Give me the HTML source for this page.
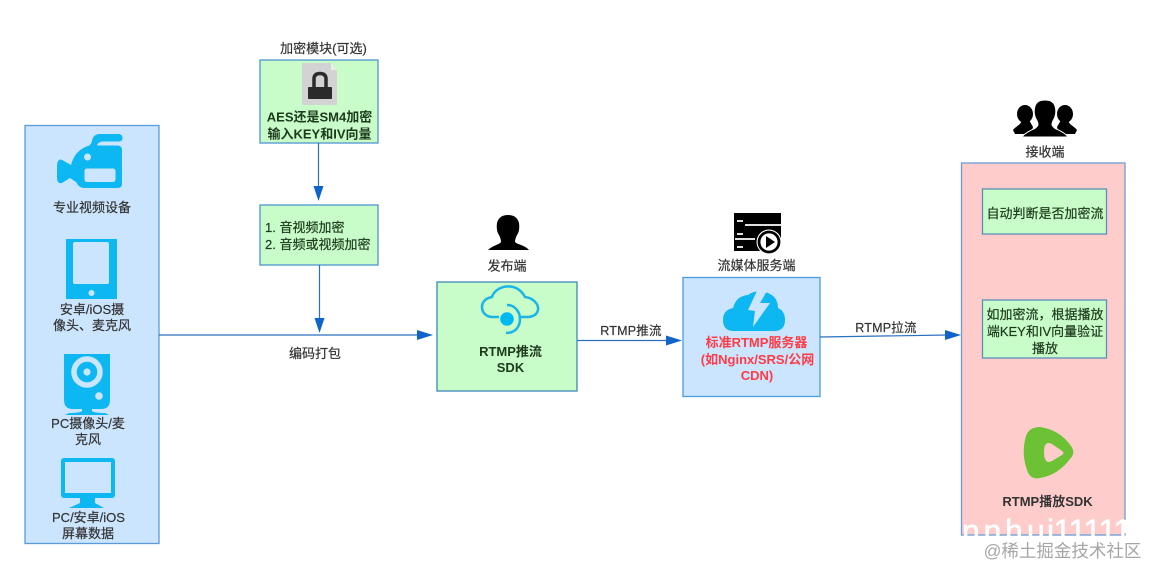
<!DOCTYPE html>
<html><head><meta charset="utf-8">
<style>
html,body{margin:0;padding:0;background:#fff;width:1149px;height:568px;overflow:hidden}
svg{display:block}
text{font-family:"Liberation Sans","Noto Sans CJK SC",sans-serif;font-size:13px;fill:#333;text-anchor:middle;stroke:#333;stroke-width:.2px}
.b{font-weight:700;stroke:none}
.d{fill:#1d3a1d;stroke:#1d3a1d}
.c{fill:#0db7f2}
</style></head>
<body>
<svg width="1149" height="568" viewBox="0 0 1149 568" xmlns="http://www.w3.org/2000/svg">
<!-- boxes -->
<rect x="25" y="125.500" width="134" height="418" fill="#cce5ff" stroke="#5b9bdc" stroke-width="1.300"/>
<rect x="260" y="60" width="118" height="83" fill="#c8fcc8" stroke="#4f95cf" stroke-width="1.300"/>
<rect x="260" y="205" width="118" height="60" fill="#c8fcc8" stroke="#4f95cf" stroke-width="1.300"/>
<rect x="437" y="282" width="140" height="109" fill="#c8fcc8" stroke="#3d87b8" stroke-width="1.300"/>
<rect x="683" y="277.500" width="137" height="119" fill="#cce5ff" stroke="#4b9be0" stroke-width="1.300"/>
<rect x="961.500" y="163" width="163.500" height="372" fill="#ffcccc" stroke="#6c9bd6" stroke-width="1.300"/>
<rect x="982.500" y="189" width="124" height="45" fill="#c8fcc8" stroke="#5b8fb8" stroke-width="1.300"/>
<rect x="982.500" y="300" width="124" height="58" fill="#c8fcc8" stroke="#5b8fb8" stroke-width="1.300"/>
<!-- connectors -->
<g stroke="#2a6fc0" stroke-width="1.200" fill="none">
<path d="M159 335H420"/>
<path d="M318.500 143V190"/>
<path d="M319.500 265V322"/>
<path d="M577 340.500H670"/>
<path d="M820 337L948 335"/>
</g>
<g fill="#0f63c9">
<path d="M433 335L417 330V340Z"/>
<path d="M318.500 201L313.500 186H323.500Z"/>
<path d="M319.500 333L314.500 318H324.500Z"/>
<path d="M682 340.500L666 335.500V345.500Z"/>
<path d="M961 335L945 330V340Z"/>
</g>
<!-- camera -->
<path class="c" d="M92 141Q93 134 100 134H119Q122.500 134.500 122.500 138Q122.500 141 119 141.500H102Q98 142 97 145.500H118Q122 146 122 150V184Q122 188 117 188H84Q79 188 76 182L70 178L62 183Q57 184 57 178V165Q58 158 62 160L71 165Q75 150 88 146Q91 145 92 141Z"/>
<circle cx="87.500" cy="157" r="3.500" fill="#cce5ff"/>
<rect x="84.500" y="168.500" width="31" height="13.500" rx="2.500" fill="#cce5ff"/>
<text x="92" y="212">专业视频设备</text>
<!-- tablet -->
<rect x="66" y="239" width="51" height="60" class="c"/>
<rect x="73" y="242" width="36" height="42" rx="2" fill="#cce5ff"/>
<circle cx="91.500" cy="293" r="3" fill="#cce5ff"/>
<text x="92" y="314">安卓/iOS摄</text>
<text x="92" y="330">像头、麦克风</text>
<!-- webcam -->
<path class="c" d="M64 354H110V400Q110 409 101 409H92V411Q94 413 105 413L109 415H65L69 413Q80 413 82 411V409H73Q64 409 64 400Z"/>
<circle cx="87" cy="372" r="13" fill="none" stroke="#cce5ff" stroke-width="5.500"/>
<circle cx="87" cy="372" r="3.600" fill="#cce5ff"/>
<circle cx="99" cy="396" r="3.800" fill="#cce5ff"/>
<text x="88" y="428">PC摄像头/麦</text>
<text x="88" y="444">克风</text>
<!-- monitor -->
<rect x="61" y="458" width="54" height="40" rx="3" class="c"/>
<rect x="65" y="462" width="46" height="31" fill="#cce5ff"/>
<path class="c" d="M80 498H95V503L104 508H69L80 503Z"/>
<text x="88.500" y="522">PC/安卓/iOS</text>
<text x="88" y="538">屏幕数据</text>
<!-- lock module -->
<text x="323.500" y="53">加密模块(可选)</text>
<path d="M302 63H331L337 70V105H302Z" fill="#d3d3d3"/>
<path d="M331 63L337 70H331Z" fill="#e8efe8"/>
<rect x="308" y="87" width="24" height="12" rx="1" fill="#2b2b2b"/>
<path d="M314 88V79Q314 73.500 320 73.500Q326 73.500 326 79V88" fill="none" stroke="#2b2b2b" stroke-width="3.500"/>
<text x="319.500" y="121.500" class="b d" style="stroke:none">AES还是SM4加密</text>
<text x="319.500" y="138.500" class="b d" style="stroke:none">输入KEY和IV向量</text>
<text x="265" y="232" style="text-anchor:start" class="d">1. 音视频加密</text>
<text x="265" y="249" style="text-anchor:start" class="d">2. 音频或视频加密</text>
<text x="315" y="358">编码打包</text>
<!-- publisher -->
<path d="M488 250C493 245 499 245 501 242Q501 239 499 235Q496 231 497 223Q499 215 508 215Q517 215 519 223Q520 231 517 235Q515 239 515 242C518 245 525 245 529 250Z" fill="#000"/>
<text x="507" y="270.500">发布端</text>
<path d="M499 317H493C479 317 478 299 492 297C495 286 516 280 525 297C533 298 539 304 538 310C537 315 532 317 527 317H521" fill="none" stroke="#1cb5e8" stroke-width="2.500"/>
<circle cx="507" cy="319" r="6.800" fill="#00b9f1"/>
<path d="M507 305C515 305 520 312 520 319C520 327 515 333 506 333" fill="none" stroke="#1cb5e8" stroke-width="2.500"/>
<text x="510.500" y="356" class="b d" style="stroke:none">RTMP推流</text>
<text x="510.500" y="372" class="b d" style="stroke:none">SDK</text>
<!-- server -->
<rect x="734" y="213" width="47" height="25" fill="#000"/>
<rect x="734" y="238" width="30" height="13" fill="#000"/>
<path d="M737 221H743M737 234H743M737 247H743M745 225H781M735 239H755" stroke="#fff" stroke-width="1.800"/>
<circle cx="769" cy="242" r="12.500" fill="#fff"/>
<circle cx="769" cy="242" r="10" fill="#fff" stroke="#000" stroke-width="2.800"/>
<path d="M766 236L775 242L766 248Z" fill="#000"/>
<text x="756.500" y="270">流媒体服务端</text>
<path d="M734 331Q723 331 723 320Q723 310 733 308Q736 296 748 295Q756 289 768 293Q778 297 778 308Q785 311 785 320Q785 331 774 331Z" fill="#0db7f2"/>
<path d="M757 291L748 310L755 311L753 327L770 303L760 303L767 291Z" fill="#cce5ff"/>
<text x="756.500" y="347" class="b" style="fill:#ff3b45">标准RTMP服务器</text>
<text x="757.500" y="364" class="b" style="fill:#ff3b45">(如Nginx/SRS/公网</text>
<text x="757" y="380" class="b" style="fill:#ff3b45">CDN)</text>
<text x="631" y="335" style="font-size:12.500px;letter-spacing:.2px">RTMP推流</text>
<text x="886" y="332" style="font-size:12.500px;letter-spacing:.2px">RTMP拉流</text>
<!-- receivers -->
<g fill="#000">
<ellipse cx="1025" cy="114" rx="8" ry="9"/>
<path d="M1013 130C1016 126 1021 125 1022 120H1029L1033 127L1031 134H1015Z"/>
<ellipse cx="1065" cy="114" rx="8" ry="9"/>
<path d="M1077 130C1074 126 1069 125 1068 120H1061L1057 127L1059 134H1075Z"/>
<path d="M1022 137C1027 130 1036 130 1038 125Q1038 122 1036 119Q1033 113 1035 106Q1037 100 1045 100Q1053 100 1055 106Q1057 113 1054 119Q1052 122 1052 125C1054 130 1063 130 1068 137Z" stroke="#fff" stroke-width="1"/>
</g>
<text x="1045" y="156.500">接收端</text>
<text x="1045" y="218" class="d">自动判断是否加密流</text>
<text x="1045" y="319" class="d">如加密流，根据播放</text>
<text x="1045" y="336" class="d">端KEY和IV向量验证</text>
<text x="1045" y="353" class="d">播放</text>
<path d="M1040 427Q1060 430 1071 446Q1076 453 1070 459Q1058 475 1040 478Q1030 480 1027 470Q1021 453 1026 436Q1029 427 1040 427Z" fill="#6cc234"/>
<path d="M1052 444L1062 451Q1065 453 1062 455L1052 461Q1044 465 1044 452Q1044 440 1052 444Z" fill="#ffcccc"/>
<text x="1047.500" y="506" class="b">RTMP播放SDK</text>
<!-- watermark -->
<text x="962 983.500 1005 1027 1047 1053.500 1068.500 1083.500 1098.500 1113.500" y="542" style="text-anchor:start;font-size:32px;fill:#fff;stroke:#fff;stroke-width:.5px">nnhui11111</text>
<rect x="1124" y="520" width="4" height="13" fill="#fff"/>
<text x="1062.500" y="557" style="font-size:17.500px;fill:#a6a6a6;stroke:none">@稀土掘金技术社区</text>
</svg>
</body></html>
